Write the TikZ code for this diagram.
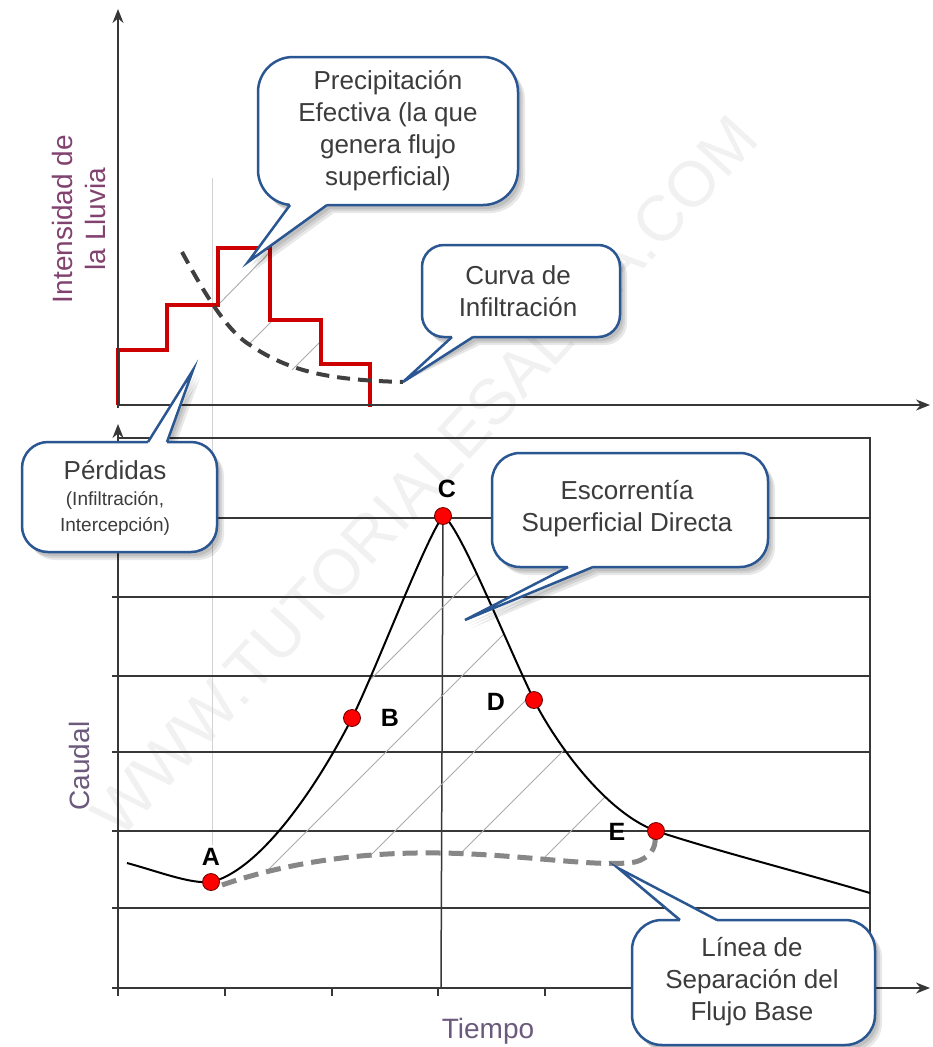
\documentclass[tikz,border=0pt]{standalone}
\usepackage{fontspec}
\setmainfont{Liberation Sans}
\usetikzlibrary{arrows.meta}
\definecolor{cblue}{RGB}{42,86,146}
\definecolor{ctext}{RGB}{60,60,60}
\definecolor{stepred}{RGB}{204,0,0}
\definecolor{axlab}{RGB}{130,66,112}
\definecolor{axlabb}{RGB}{108,90,124}
\definecolor{gridc}{RGB}{55,55,55}
\definecolor{infc}{RGB}{64,64,64}
\definecolor{basec}{RGB}{135,135,135}
\newcommand{\mycallout}[8]{%
  \foreach \d in {2,4,6}{%
    \fill[black,opacity=0.09,shift={(\d+1,\d+2)}] [rounded corners=#5] (#1,#2) rectangle (#3,#4) [sharp corners] #6 -- #7 -- #8 -- cycle;}
  \filldraw[fill=white,draw=cblue,line width=2.5pt,rounded corners=#5] (#1,#2) rectangle (#3,#4);
  \fill[white] #6 -- #7 -- #8 -- cycle;
  \draw[white,line width=3.5pt] #6 -- #8;
  \draw[cblue,line width=2.5pt,line join=miter] #6 -- #7 -- #8;
}
\begin{document}
\begin{tikzpicture}[x=1pt,y=-1pt,
  axisline/.style={draw=gridc,line width=1.5pt},
  gridline/.style={draw=gridc,line width=1.5pt},
  hatch/.style={draw=gray!65,line width=0.9pt},
  ctxt/.style={text=ctext,align=center,inner sep=0pt,font=\fontsize{26}{32}\selectfont},
  smalltxt/.style={text=ctext,align=center,inner sep=0pt,font=\fontsize{19}{26}\selectfont},
  ptnode/.style={circle,fill=red,draw=black!60!red,line width=0.8pt,minimum size=17pt,inner sep=0pt},
  ptlab/.style={font=\bfseries\fontsize{25}{25}\selectfont,text=black,inner sep=0pt},
  arr/.style={-{Stealth[length=14pt,width=11pt]}}]
\useasboundingbox (0,0) rectangle (933,1047);
\fill[white] (0,0) rectangle (933,1047);

% watermark
\node[rotate=47.5,text=gray!11,font=\fontsize{64}{64}\selectfont,inner sep=0pt] (wm) at (425,476) {WWW.TUTORIALESALDIA.COM};

% key positions
\coordinate (pA) at (211,882);
\coordinate (pB) at (352,718);
\coordinate (pC) at (443,516);
\coordinate (pD) at (534,700);
\coordinate (pE) at (656,831);
\coordinate (bfs) at (222,885);
\coordinate (bfm) at (440,853);
\coordinate (bfe) at (655,838);
\coordinate (hs) at (127,863);
\coordinate (he) at (870,893);

% light vertical guide
\draw[gray!35,line width=1pt] (212,178) -- (212,845);

% ---------- bottom plot grid ----------
\foreach \yy in {518,597,676,752,831,908}{\draw[gridline] (112,\yy) -- (870,\yy);}
\draw[gridline] (118,438) -- (870,438) -- (870,988);
\foreach \xx in {118,225,332,438,545}{\draw[axisline] (\xx,988) -- (\xx,996);}
\draw[gridline] (pC) -- (441,988);

% hatching bottom
\begin{scope}
\clip (pA) .. controls (255,872) and (310,800) .. (pB)
  .. controls (375,672) and (425,540) .. (pC)
  .. controls (458,522) and (505,640) .. (pD)
  .. controls (549,731) and (600,810) .. (pE)
  -- (bfe) .. controls (656,848) and (650,858) .. (635,862)
  .. controls (600,868) and (520,854) .. (bfm)
  .. controls (380,852) and (300,858) .. (bfs) -- cycle;
\foreach \c in {962,1050,1138,1226,1314,1402}{\draw[hatch] (\c-1000,1000) -- (\c-400,400);}
\end{scope}

% hatching top
\draw[hatch] (218,305) -- (270,252);
\draw[hatch] (249,344) -- (271,322);
\draw[hatch] (292,370) -- (321,341);

% base flow separation
\draw[basec,line width=5pt,dash pattern=on 15pt off 8pt] (bfs) .. controls (300,858) and (380,852) .. (bfm)
  .. controls (520,854) and (600,868) .. (635,862) .. controls (650,858) and (656,848) .. (bfe);

% hydrograph
\draw[black,line width=2pt] (hs) .. controls (160,872) and (190,884) .. (pA)
  .. controls (255,872) and (310,800) .. (pB)
  .. controls (375,672) and (425,540) .. (pC)
  .. controls (458,522) and (505,640) .. (pD)
  .. controls (549,731) and (600,810) .. (pE)
  .. controls (720,852) and (800,872) .. (he);

% points
\node[ptnode] (A) at (pA) {};
\node[ptnode] (B) at (pB) {};
\node[ptnode] (C) at (pC) {};
\node[ptnode] (D) at (pD) {};
\node[ptnode] (E) at (pE) {};

\node[ptlab] (lA) at (211,857) {A};
\node[ptlab] (lB) at (390,718) {B};
\node[ptlab] (lC) at (447,489) {C};
\node[ptlab] (lD) at (496,702) {D};
\node[ptlab] (lE) at (617,832) {E};

% ---------- top plot ----------
\draw[stepred,line width=3.5pt,line join=miter] (118,405) -- (118,350) -- (167,350) -- (167,305) -- (218,305) -- (218,248) -- (270,248) -- (270,320) -- (321,320) -- (321,364) -- (370,364) -- (370,407);
\coordinate (infs) at (182,252);
\coordinate (infend) at (403,382);
\draw[infc,line width=4pt,dash pattern=on 13pt off 8pt] (infs) .. controls (200,285) and (225,330) .. (250,345) .. controls (290,372) and (330,380) .. (infend);

% axes
\draw[axisline,arr] (118,408) -- (118,9);
\draw[axisline,arr] (118,405) -- (930,405);
\draw[axisline,arr] (118,990) -- (118,424);
\draw[axisline,arr] (112,988) -- (930,988);

% axis labels
\node[rotate=90,text=axlab,align=center,inner sep=0pt,font=\fontsize{28}{33}\selectfont] (ylab) at (79,219) {Intensidad de\\la Lluvia};
\node[rotate=90,text=axlabb,inner sep=0pt,font=\fontsize{28}{28}\selectfont] (qlab) at (79,766) {Caudal};
\node[text=axlabb,inner sep=0pt,font=\fontsize{28}{28}\selectfont] (tlab) at (488,1031) {Tiempo};

% ---------- callouts ----------
\mycallout{258}{57}{518}{205}{35pt}{(290,205)}{(248,262)}{(327,205)}
\node[ctxt] (prec) at (388,131) {Precipitación\\Efectiva (la que\\genera flujo\\superficial)};

\mycallout{422}{245}{620}{337}{22pt}{(452,337)}{(infend)}{(473,337)}
\node[ctxt] (curva) at (518,291) {Curva de\\Infiltración};

\mycallout{22}{442}{217}{552}{26pt}{(148,442)}{(193,370)}{(167,442)}
\node[ctxt] (perd) at (115,470) {Pérdidas};
\node[smalltxt] (perd2) at (115,513) {(Infiltración,\\Intercepción)};

\mycallout{492}{453}{768}{567}{28pt}{(568,567)}{(465,620)}{(593,567)}
\node[ctxt] (esc) at (627,509) {Escorrentía\\Superficial Directa};

\mycallout{632}{920}{875}{1045}{30pt}{(680,920)}{(618,868)}{(717,920)}
\node[ctxt] (linea) at (752,982) {Línea de\\Separación del\\Flujo Base};

\end{tikzpicture}
\end{document}
